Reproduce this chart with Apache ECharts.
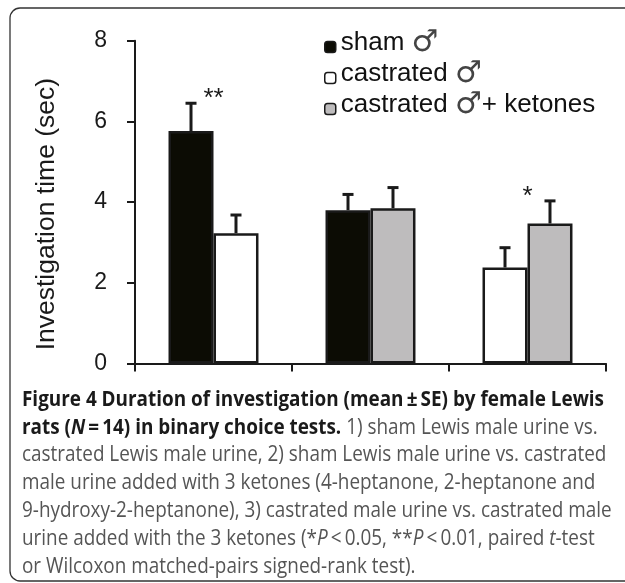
<!DOCTYPE html>
<html><head><meta charset="utf-8">
<script src="https://cdn.jsdelivr.net/npm/echarts@6/dist/echarts.min.js"></script>
<style>html,body{margin:0;padding:0;background:#fff}#c{width:625px;height:583px}</style>
</head><body><div id="c"></div>
<script>
// ---- data ----
const categories = ['1', '2', '3'];
const seriesNames = ['sham \u2642', 'castrated \u2642', 'castrated \u2642+ ketones'];
const shamMean = [5.76, 3.80, null];
const shamSE = [0.69, 0.39, null];
const castratedMean = [3.23, null, 2.38];
const castratedSE = [0.45, null, 0.49];
const ketonesMean = [null, 3.85, 3.47];
const ketonesSE = [null, 0.51, 0.56];
const significance = ['**', '', '*'];
const yTicks = [0, 2, 4, 6, 8];
const yAxisTitle = 'Investigation time (sec)';
const captionLines = [
  [['b', 'Figure 4 Duration of investigation (mean\u2009\u00b1\u2009SE) by female Lewis']],
  [['b', 'rats ('], ['bi', 'N'], ['b', '\u2009=\u200914) in binary choice tests.'], ['r', ' 1) sham Lewis male urine vs.']],
  [['r', 'castrated Lewis male urine, 2) sham Lewis male urine vs. castrated']],
  [['r', 'male urine added with 3 ketones (4-heptanone, 2-heptanone and']],
  [['r', '9-hydroxy-2-heptanone), 3) castrated male urine vs. castrated male']],
  [['r', 'urine added with the 3 ketones (*'], ['i', 'P'], ['r', '\u2009<\u20090.05, **'], ['i', 'P'], ['r', '\u2009<\u20090.01, paired '], ['i', 't'], ['r', '-test']],
  [['r', 'or Wilcoxon matched-pairs signed-rank test).']]
];

// ---- styling ----
const means = [shamMean, castratedMean, ketonesMean];
const ses = [shamSE, castratedSE, ketonesSE];
const fills = ['#0c0c04', '#ffffff', '#bebcbd'];
const edge = '#1a1a1a';
const GAP = 0.427;
const chartFont = '"Liberation Sans", Arial, Helvetica, sans-serif';
const capFont = '"Open Sans", "Noto Sans", sans-serif';

// slot assignment: first present series in a category goes left, second right
const slotOf = means.map(() => categories.map(() => null));
categories.forEach((c, i) => {
  let k = 0;
  means.forEach((m, s) => { if (m[i] != null) { slotOf[s][i] = k === 0 ? 'L' : 'R'; k++; } });
});

const series = [];
means.forEach((m, s) => {
  ['L', 'R'].forEach(slot => {
    const data = categories.map((c, i) => slotOf[s][i] === slot ? m[i] : '-');
    if (data.every(v => v === '-')) return;
    series.push({
      type: 'bar', name: seriesNames[s], stack: slot, data,
      barGap: '0%', barCategoryGap: (GAP * 100) + '%',
      itemStyle: { color: fills[s], borderColor: edge, borderWidth: 2.5 },
      emphasis: { disabled: true }, z: 2
    });
  });
});

const errData = [];
means.forEach((m, s) => m.forEach((v, i) => {
  if (v != null) errData.push([i, v, ses[s][i], slotOf[s][i] === 'L' ? -1 : 1]);
}));
series.push({
  type: 'custom', name: 'err', data: errData, encode: { x: 0, y: 1 }, z: 3, silent: true,
  renderItem(params, api) {
    const cat = api.value(0), m = api.value(1), se = api.value(2), side = api.value(3);
    const band = api.size([1, 0])[0];
    const bw = band * (1 - GAP) / 2;
    const base = api.coord([cat, m]);
    const top = api.coord([cat, m + se]);
    const x = base[0] + side * bw / 2;
    return { type: 'group', children: [
      { type: 'line', shape: { x1: x, y1: base[1], x2: x, y2: top[1] }, style: { stroke: edge, lineWidth: 3 } },
      { type: 'line', shape: { x1: x - 5.5, y1: top[1], x2: x + 5.5, y2: top[1] }, style: { stroke: edge, lineWidth: 3 } }
    ] };
  }
});

const sigData = [];
significance.forEach((t, i) => {
  if (!t) return;
  let mx = 0;
  means.forEach((m, s) => { if (m[i] != null) mx = Math.max(mx, m[i] + ses[s][i]); });
  sigData.push([i, mx, t]);
});
series.push({
  type: 'custom', name: 'sig', data: sigData, encode: { x: 0, y: 1 }, z: 4, silent: true,
  renderItem(params, api) {
    const p = api.coord([api.value(0), api.value(1)]);
    return { type: 'text', x: p[0], y: p[1] + 9, style: {
      text: sigData[params.dataIndex][2], align: 'center', verticalAlign: 'bottom',
      fontSize: 26, fontFamily: chartFont, fill: edge } };
  }
});

const captionText = captionLines.map(l => l.map(([s, t]) => '{' + s + '|' + t + '}').join('')).join('\n');
const capBase = { fontSize: 21, fontFamily: capFont, lineHeight: 27.8 };

const chart = echarts.init(document.getElementById('c'), null, { renderer: 'canvas' });
chart.setOption({
  backgroundColor: '#ffffff',
  animation: false,
  grid: { left: 135, right: 19, top: 40.7, bottom: 219.5, containLabel: false },
  legend: {
    orient: 'vertical', left: 319, top: 23, itemWidth: 11, itemHeight: 11, itemGap: -6,
    data: seriesNames, selectedMode: false,
    itemStyle: { borderColor: edge, borderWidth: 1.5 },
    formatter: name => name.replace('\u2642', '{m|\u2642}'),
    textStyle: {
      fontSize: 26, fontFamily: chartFont, color: '#111', lineHeight: 28, padding: [0, 0, 8, 0],
      rich: { m: { fontSize: 30, fontFamily: '"DejaVu Sans", sans-serif', color: '#444', fontWeight: 'normal', lineHeight: 28 } }
    }
  },
  xAxis: {
    type: 'category', data: categories,
    axisLine: { lineStyle: { color: edge, width: 2 } },
    axisTick: { show: true, length: 8, lineStyle: { color: edge, width: 2 } },
    axisLabel: { show: false }, splitLine: { show: false }
  },
  yAxis: {
    type: 'value', min: yTicks[0], max: yTicks[yTicks.length - 1], interval: yTicks[1] - yTicks[0],
    name: yAxisTitle, nameLocation: 'middle', nameGap: 75,
    nameTextStyle: { fontSize: 26.5, fontFamily: chartFont, color: edge, padding: [0, 24, 0, 0] },
    axisLine: { show: true, lineStyle: { color: edge, width: 2 } },
    axisTick: { show: true, length: 8, lineStyle: { color: edge, width: 2 } },
    axisLabel: { fontSize: 23, fontFamily: chartFont, color: edge, margin: 28 },
    splitLine: { show: false }
  },
  graphic: [
    { type: 'rect', shape: { x: 10, y: 8, width: 700, height: 573, r: 10 }, style: { fill: 'none', stroke: '#333', lineWidth: 1.3 }, silent: true },
    { type: 'text', x: 22, y: 386, scaleX: 0.9, silent: true, style: {
      text: captionText, verticalAlign: 'top', fontSize: 21, fontFamily: capFont, lineHeight: 27.8,
      rich: {
        b: Object.assign({ fontWeight: 'bold', fill: '#1a1a1a' }, capBase),
        bi: Object.assign({ fontWeight: 'bold', fontStyle: 'italic', fill: '#1a1a1a' }, capBase),
        r: Object.assign({ fill: '#555555' }, capBase),
        i: Object.assign({ fontStyle: 'italic', fill: '#555555' }, capBase)
      } } }
  ],
  series
});
</script></body></html>
